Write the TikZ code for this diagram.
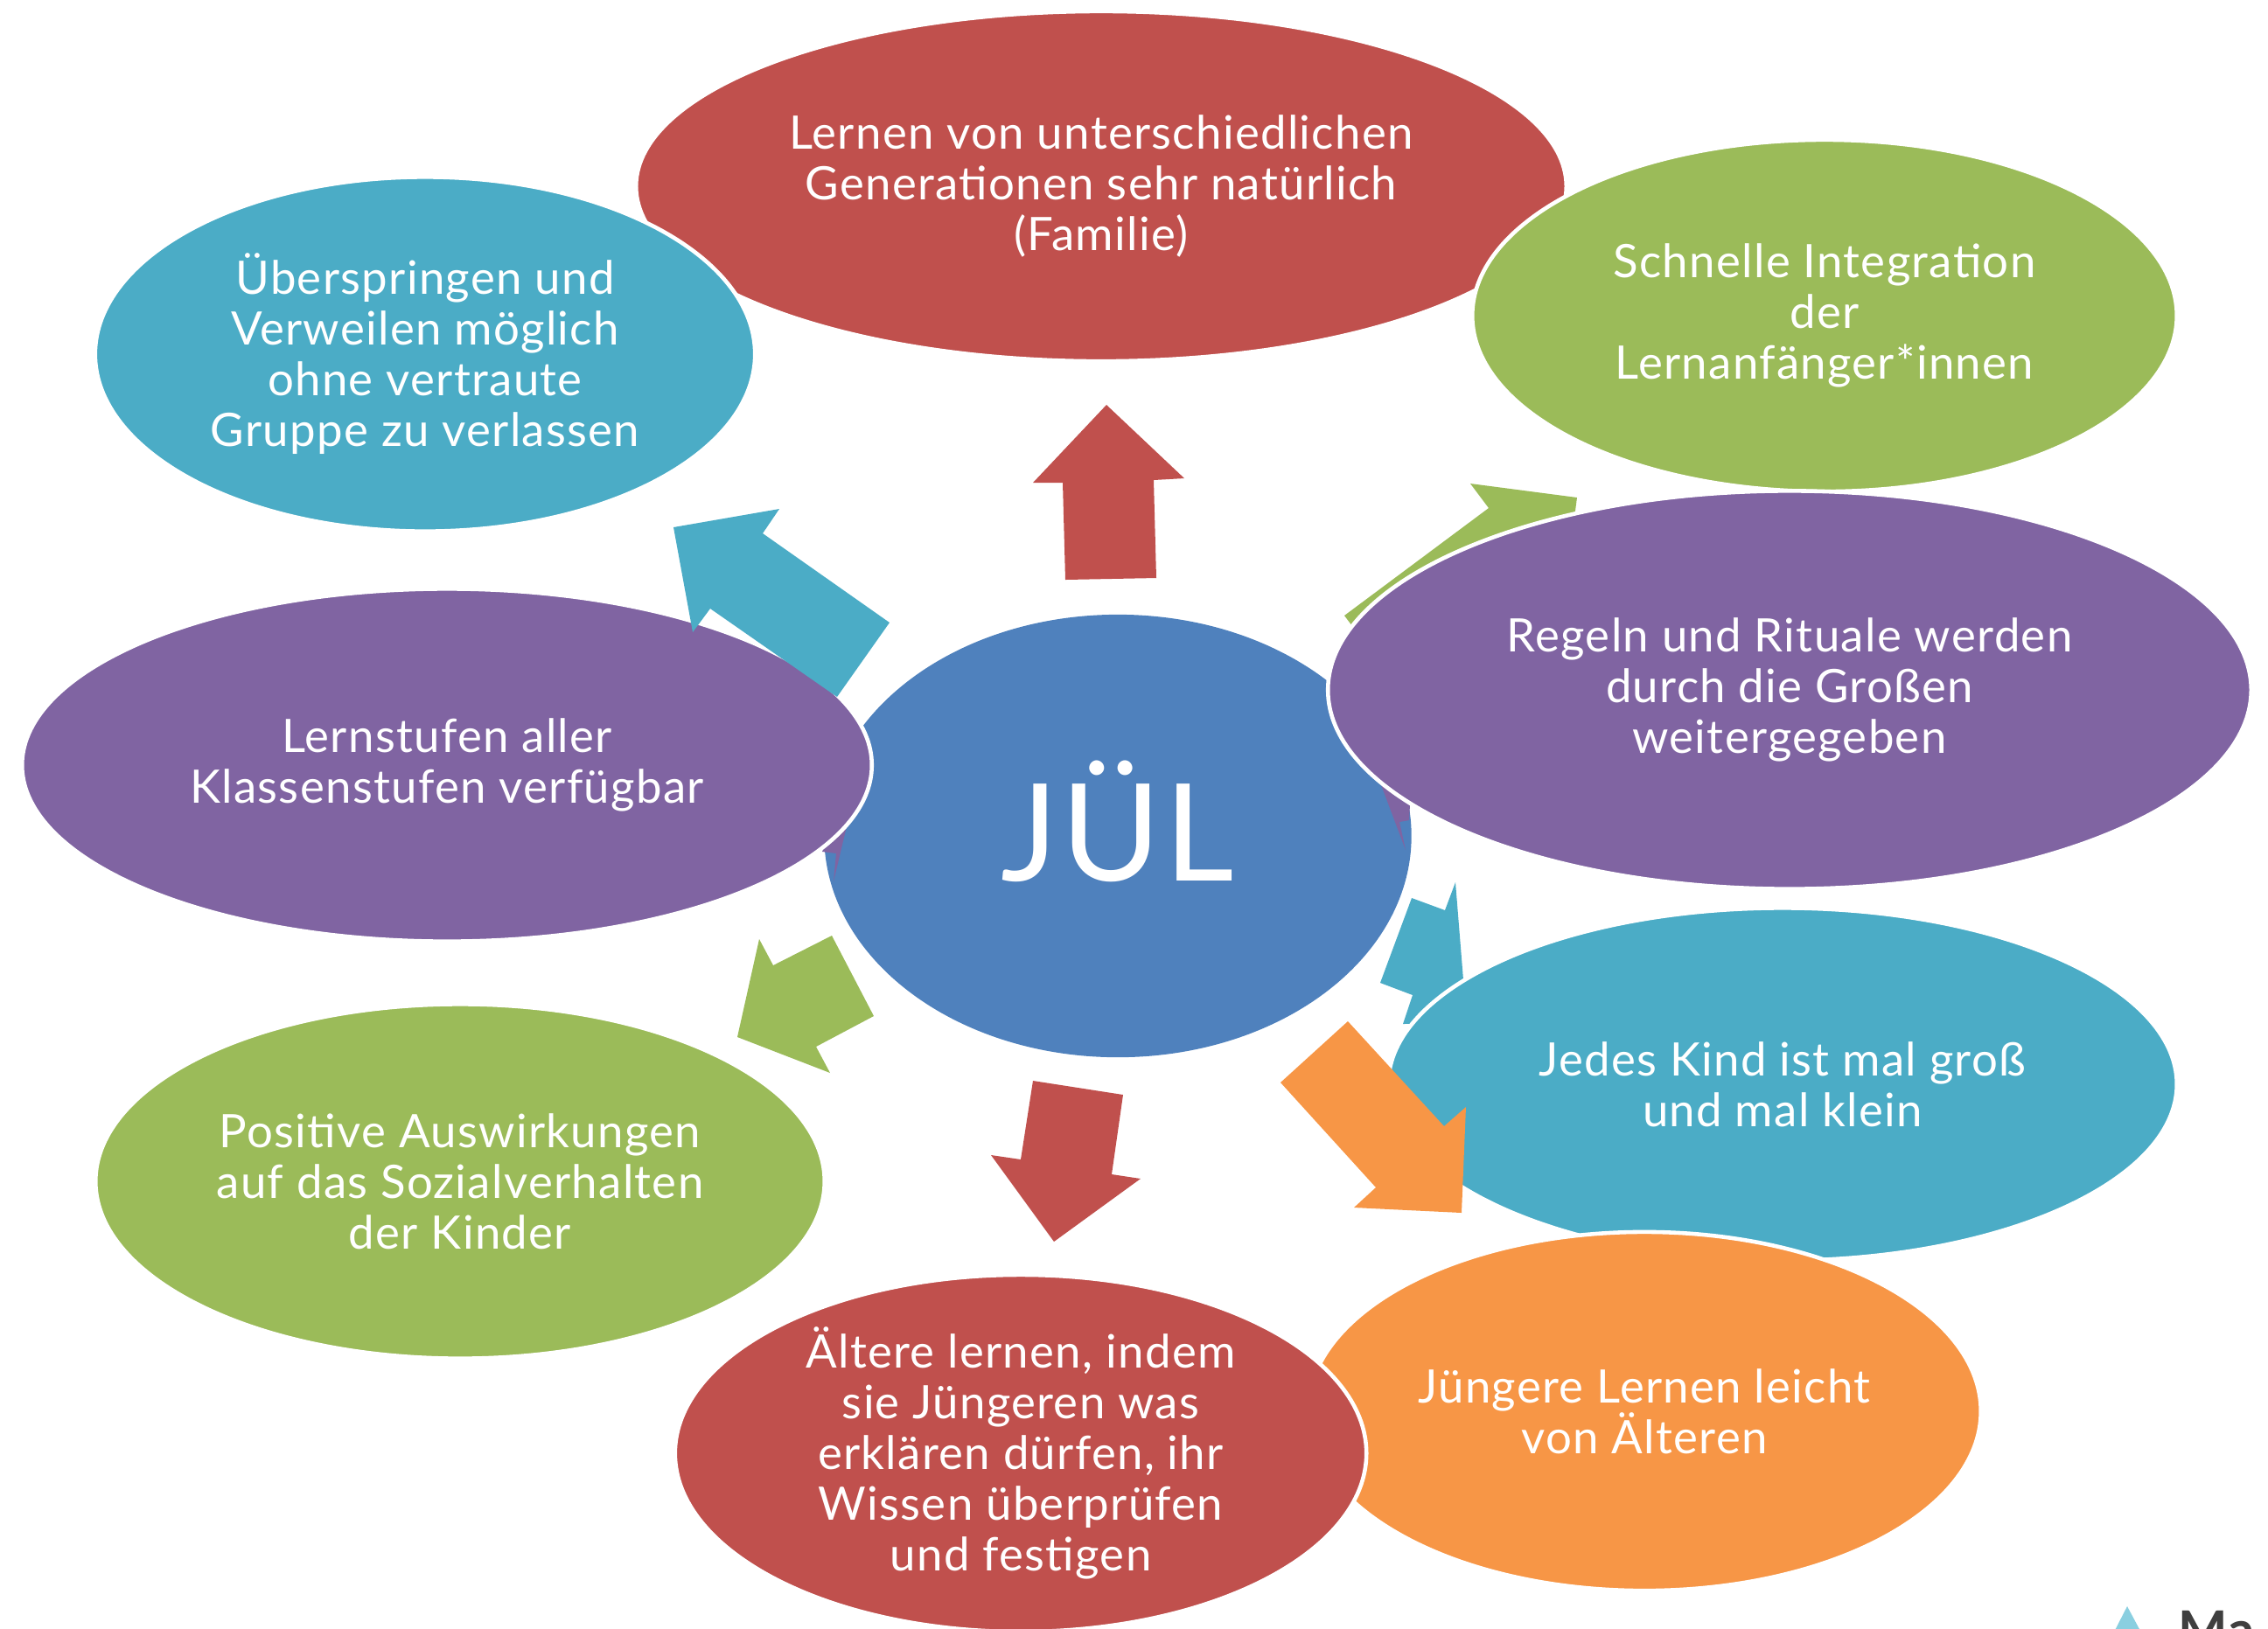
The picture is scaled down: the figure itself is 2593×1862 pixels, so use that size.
\documentclass[tikz,border=0pt]{standalone}
\usepackage{fontspec}
\setmainfont{Lato}[LetterSpace=2.5]
\usepackage{tikz}
\usetikzlibrary{shapes.geometric}

\definecolor{jred}{HTML}{C0504D}
\definecolor{jteal}{HTML}{4BACC6}
\definecolor{jgreen}{HTML}{9BBB59}
\definecolor{jpurple}{HTML}{8064A2}
\definecolor{jblue}{HTML}{4F81BD}
\definecolor{jorange}{HTML}{F79646}
\definecolor{logoblue}{HTML}{8ACFE0}
\definecolor{logogray}{HTML}{3F3F3F}

\tikzset{
	bubble/.style={ellipse, draw=white, line width=1.3pt, inner sep=0pt, text=white, align=center, font=\fontsize{15}{16.5}\selectfont},
}

\begin{document}
\begin{tikzpicture}[x=0.01cm, y=-0.01cm]
	\clip (0,0) rectangle (2593,1862);
	%\draw[help lines] (0,0) grid[step=100] (2593,1862);
	\node[bubble, fill=jred, minimum width=10.63cm, minimum height=4cm] (familie) at (1259,213) {Lernen von unterschiedlichen\\Generationen sehr natürlich\\(Familie)};
	\node[bubble, fill=jteal, minimum width=7.54cm, minimum height=4.05cm] (springen) at (486,405) {Überspringen und\\Verweilen möglich\\ohne vertraute\\Gruppe zu verlassen};
	\node[bubble, fill=jgreen, minimum width=8.05cm, minimum height=4.02cm] (integration) at (2086,361) {Schnelle Integration\\der\\Lernanfänger*innen};
	\fill[jgreen] (1803,569) -- (1787,691) -- (1766,663) -- (1600,787) -- (1537,704) -- (1702,581) -- (1681,553) -- cycle;
	\node[bubble, fill=jblue, draw=none, minimum width=6.71cm, minimum height=5.06cm] (jul) at (1278,956) {};
	\node[anchor=base, inner sep=0pt, text=white, font=\fontsize{44}{44}\selectfont] (jultext) at (1278,1007) {JÜL};
	\fill[jpurple] (968,945) -- (953,1008) -- (956,976) -- (940,974) -- (950,945) -- cycle;
	\fill[jpurple] (1578,895) -- (1612,920) -- (1611,938) -- (1600,940) -- (1607,972) -- cycle;
	\node[bubble, fill=jpurple, minimum width=9.71cm, minimum height=4.03cm] (lernstufen) at (511,875) {Lernstufen aller\\Klassenstufen verfügbar};
	\node[bubble, fill=jpurple, minimum width=10.55cm, minimum height=4.55cm] (regeln) at (2046,789) {Regeln und Rituale werden\\durch die Großen\\weitergegeben};
	\fill[jteal] (770,603) -- (891,582) -- (872,610) -- (1017,712) -- (957,797) -- (812,696) -- (792,723) -- cycle;
	\fill[jred] (1265,463) -- (1354,547) -- (1319,549) -- (1322,661) -- (1218,663) -- (1215,552) -- (1181,552) -- cycle;
	\node[bubble, fill=jgreen, minimum width=8.33cm, minimum height=4.05cm] (sozial) at (526,1351) {Positive Auswirkungen\\auf das Sozialverhalten\\der Kinder};
	\fill[jgreen] (843,1186) -- (868,1074) -- (884,1104) -- (951,1070) -- (999,1162) -- (933,1197) -- (949,1227) -- cycle;
	\fill[jteal] (1614,1027) -- (1652,1041) -- (1664,1009) -- (1677,1170) -- (1604,1171) -- (1615,1138) -- (1578,1124) -- cycle;
	\node[bubble, fill=jteal, minimum width=9.01cm, minimum height=4.03cm] (gross) at (2038,1240) {Jedes Kind ist mal groß\\und mal klein};
	\fill[jorange] (1541,1168) -- (1651,1288) -- (1676,1266) -- (1671,1387) -- (1548,1381) -- (1573,1358) -- (1464,1238) -- cycle;
	\node[bubble, fill=jorange, minimum width=7.69cm, minimum height=4.1cm] (juengere) at (1880,1614) {Jüngere Lernen leicht\\von Älteren};
	\fill[jred] (1181,1236) -- (1284,1252) -- (1271,1343) -- (1304,1348) -- (1205,1420) -- (1133,1321) -- (1167,1326) -- cycle;
	\node[bubble, fill=jred, minimum width=7.9cm, minimum height=4cm] (aeltere) at (1167,1662) {Ältere lernen, indem\\sie Jüngeren was\\erklären dürfen, ihr\\Wissen überprüfen\\und festigen};
	\fill[logoblue] (2432,1837) -- (2455,1880) -- (2410,1880) -- cycle;
	\node[anchor=base west, inner sep=0pt, text=logogray, font=\fontsize{17}{17}\selectfont\bfseries] (logo) at (2490,1885) {Ma};
\end{tikzpicture}
\end{document}
